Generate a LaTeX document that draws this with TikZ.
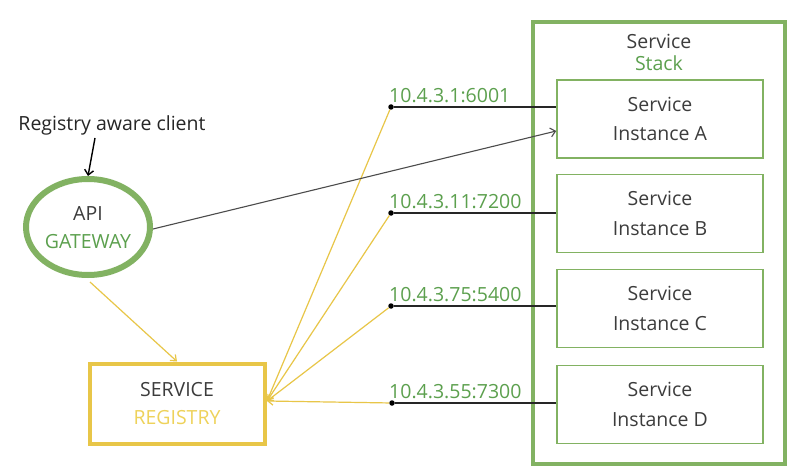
\documentclass[tikz,border=0pt]{standalone}
\usepackage{fontspec}
\setmainfont{Open Sans}
\usetikzlibrary{arrows.meta,shapes.geometric}
\definecolor{gbox}{RGB}{130,178,98}
\definecolor{gtext}{RGB}{92,160,78}
\definecolor{ybox}{RGB}{232,198,72}
\definecolor{ytext}{RGB}{238,210,90}
\definecolor{dtext}{RGB}{60,60,60}
\tikzset{
  inst/.style={draw=gbox,line width=1.5pt,minimum width=206pt,minimum height=78pt,inner sep=0pt},
  lbl/.style={font=\fontsize{19.5}{23}\selectfont,text=dtext,inner sep=0pt},
  ip/.style={font=\fontsize{19.5}{23}\selectfont,text=gtext,inner sep=0pt,anchor=south west},
  dotc/.style={circle,fill=black,inner sep=0pt,minimum size=5.5pt},
  yl/.style={draw=ybox,line width=1.2pt,-{Straight Barb[length=5pt,width=8pt]}},
  bl/.style={draw=black!85,line width=1.6pt},
}
\begin{document}
\begin{tikzpicture}[x=1pt,y=-1pt]
\useasboundingbox (0,0) rectangle (800,473);
\fill[white] (0,0) rectangle (800,473);
% stack
\node[draw=gbox,line width=4pt,minimum width=252pt,minimum height=441pt,inner sep=0pt] (stack) at (659,243) {};
\node[lbl] (st1) at (659,41) {Service};
\node[lbl,text=gtext] (st2) at (659,63) {Stack};
\node[inst] (A) at (660,119) {};
\node[inst] (B) at (660,213.5) {};
\node[inst] (C) at (660,308.5) {};
\node[inst] (D) at (660,404.5) {};
\foreach \n/\l in {A/A,B/B,C/C,D/D}{
  \node[lbl] at ([yshift=15pt]\n.center) {Service};
  \node[lbl] at ([yshift=-15pt]\n.center) {Instance \l};
}
% gateway
\node[ellipse,draw=gbox,line width=6pt,minimum width=124pt,minimum height=96pt,inner sep=0pt] (gw) at (88,227) {};
\node[lbl] (gw1) at (88,214) {API};
\node[lbl,text=gtext] (gw2) at (88,242) {GATEWAY};
\node[lbl,text=black!85] (client) at (112,125) {Registry aware client};
\draw[black,line width=1.4pt,-{Straight Barb[length=5pt,width=9pt]}] (95,138) -- (gw.north);
% registry
\node[draw=ybox,line width=4pt,minimum width=175pt,minimum height=80pt,inner sep=0pt] (reg) at (177,403.5) {};
\node[lbl] (r1) at (177,390) {SERVICE};
\node[lbl,text=ytext] (r2) at (177,418) {REGISTRY};
% dots
\node[dotc] (dA) at (391,107) {};
\node[dotc] (dB) at (391,213) {};
\node[dotc] (dC) at (391,306) {};
\node[dotc] (dD) at (392,403) {};
\coordinate (rin) at (267,401);
\draw[bl] (dA) -- (dA -| A.west);
\draw[bl] (dB) -- (dB -| B.west);
\draw[bl] (dC) -- (dC -| C.west);
\draw[bl] (dD) -- (dD -| D.west);
\draw[yl] (dA) -- (rin);
\draw[yl] (dB) -- (rin);
\draw[yl] (dC) -- (rin);
\draw[yl] (dD) -- (rin);
\draw[yl] (90,282) -- (reg.north);
\node[ip] (ipA) at (389,103) {10.4.3.1:6001};
\node[ip] (ipB) at (389,209) {10.4.3.11:7200};
\node[ip] (ipC) at (389,302) {10.4.3.75:5400};
\node[ip] (ipD) at (389,399) {10.4.3.55:7300};
% gateway to instance A
\draw[draw=black!70,line width=1.1pt,-{Straight Barb[length=5pt,width=9pt]}] (gw.east) ++(0,2) -- ([yshift=-12pt]A.west);
\end{tikzpicture}
\end{document}
